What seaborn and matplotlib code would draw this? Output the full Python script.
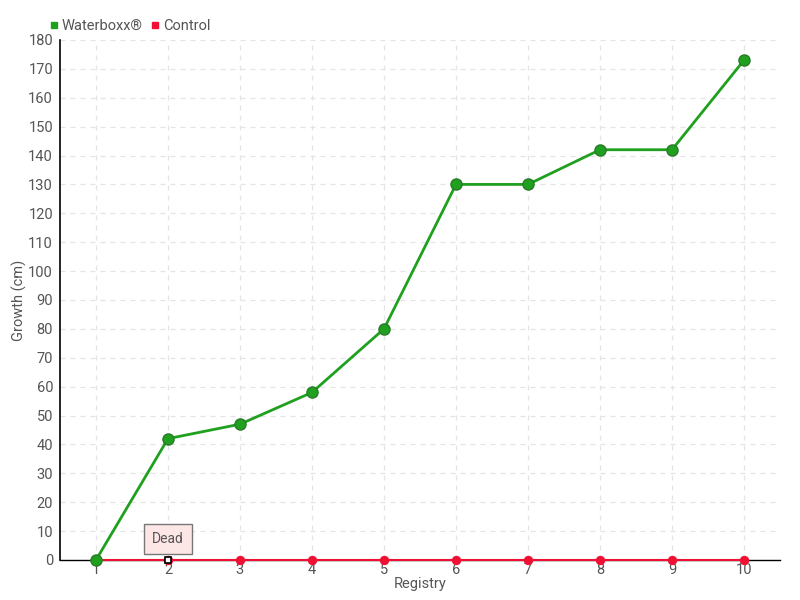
import numpy as np
import pandas as pd
import matplotlib
matplotlib.use('Agg')
import matplotlib.pyplot as plt
import seaborn as sns

# chart data
registry = [1, 2, 3, 4, 5, 6, 7, 8, 9, 10]
waterboxx = [0, 42, 47, 58, 80, 130, 130, 142, 142, 173]
control = [0, 0, 0, 0, 0, 0, 0, 0, 0, 0]
y_ticks = list(range(0, 181, 10))

df = pd.DataFrame({'Registry': registry * 2,
                   'Growth': waterboxx + control,
                   'series': ['Waterboxx®'] * 10 + ['Control'] * 10})

sns.set_style('white')
plt.rcParams['font.family'] = ['Roboto', 'DejaVu Sans']

green = '#1fa01f'
red = '#ee1133'
txt = '#555555'

fig = plt.figure(figsize=(8, 6), dpi=100)
ax = fig.add_axes([0.075, 0.0667, 0.9, 0.8667])

# grid
ax.grid(True, color='#e4e4e4', linestyle=(0, (4, 4)), linewidth=0.9)
ax.set_axisbelow(True)

sns.lineplot(data=df[df.series == 'Control'], x='Registry', y='Growth', ax=ax,
             color=red, linewidth=1.5, marker='o', markersize=6,
             markeredgecolor=red, zorder=5, legend=False, clip_on=False)
sns.lineplot(data=df[df.series == 'Waterboxx®'], x='Registry', y='Growth', ax=ax,
             color=green, linewidth=2.0, marker='o', markersize=8,
             markeredgecolor='#2a7a2a', markeredgewidth=1.0, zorder=6, legend=False,
             clip_on=False)

# "Dead" marker on control at point 2
ax.plot([registry[1]], [control[1]], marker='s', markersize=5, color='white',
        markeredgecolor='black', markeredgewidth=1.2, zorder=8, linestyle='none',
        clip_on=False)
ax.annotate('Dead', xy=(registry[1], control[1]), xytext=(0, 10),
            textcoords='offset points', ha='center', va='bottom',
            fontsize=10, color=txt, zorder=9,
            bbox=dict(boxstyle='square,pad=0.55', fc='#fde6e6', ec='#777777', lw=1))

ax.set_xlim(0.5, 10.5)
ax.set_ylim(0, 180)
ax.set_xticks(registry)
ax.set_yticks(y_ticks)
ax.tick_params(axis='both', colors=txt, labelsize=10.5, length=4, width=1)
ax.tick_params(axis='x', direction='in', pad=2)
ax.tick_params(axis='y', direction='out', pad=1, color='black')
for t in ax.get_xticklabels() + ax.get_yticklabels():
    t.set_color(txt)

ax.set_xlabel('Registry', color=txt, fontsize=10.5, labelpad=0)
ax.set_ylabel('Growth (cm)', color=txt, fontsize=10.5, labelpad=1)

for s in ['top', 'right']:
    ax.spines[s].set_visible(False)
ax.spines['left'].set_color('black')
ax.spines['bottom'].set_color('black')
ax.spines['left'].set_linewidth(1.2)
ax.spines['bottom'].set_linewidth(1)

# legend
handles = [plt.Line2D([], [], marker='s', color=green, linestyle='none', markersize=5),
           plt.Line2D([], [], marker='s', color=red, linestyle='none', markersize=5)]
fig.legend(handles, ['Waterboxx®', 'Control'], loc='upper left',
           bbox_to_anchor=(0.042, 0.99), ncol=2, frameon=False, fontsize=10.5,
           handletextpad=0.0, columnspacing=0.4, handlelength=1.0, labelcolor=txt)

fig.savefig('out.png', dpi=100)
